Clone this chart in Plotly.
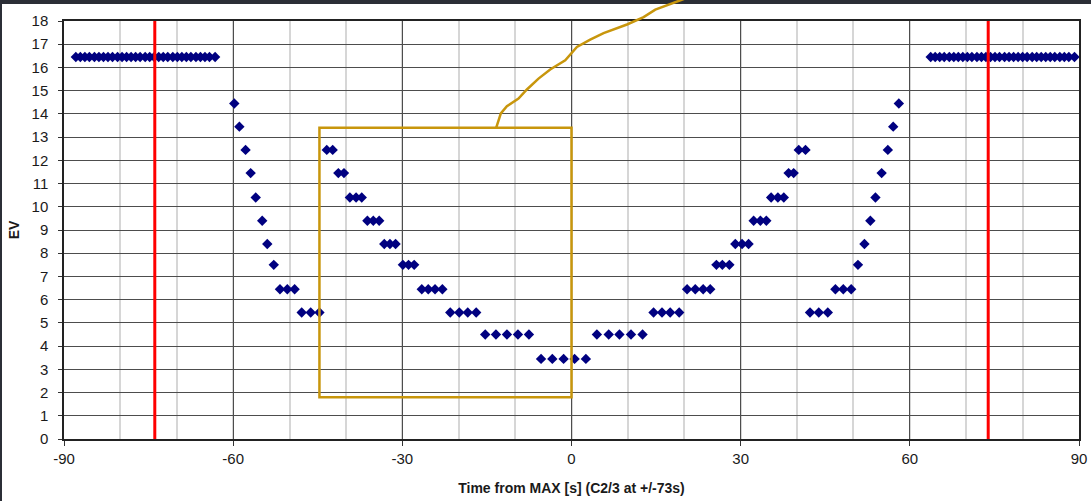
import plotly.graph_objects as go

# EV readings against time from maximum eclipse
time_s = [
    # plateau before C2
    -87.9, -87.1, -86.3, -85.5, -84.6, -83.8, -83.0, -82.2, -81.4, -80.5,
    -79.7, -78.9, -78.1, -77.3, -76.5, -75.6, -74.8, -74.0, -73.2, -72.4,
    -71.6, -70.7, -69.9, -69.1, -68.3, -67.5, -66.6, -65.8, -65.0, -64.2, -63.2,
    # first bracketing sweep
    -59.8, -58.9, -57.8, -56.9, -56.0, -54.85, -53.95, -52.8,
    -51.7, -50.4, -49.1, -47.85, -46.25, -44.7,
    # second bracketing sweep, down to the minimum and back up
    -43.4, -42.35, -41.35, -40.35, -39.3, -38.2, -37.2, -36.2, -35.15, -34.1,
    -33.2, -32.2, -31.2, -29.9, -28.9, -27.9, -26.55, -25.4, -24.2, -22.9,
    -21.5, -19.9, -18.4, -16.9, -15.3, -13.4, -11.45, -9.5, -7.55,
    -5.4, -3.4, -1.4, 0.55, 2.55,
    4.5, 6.6, 8.5, 10.55, 12.6, 14.55, 16.05, 17.5, 19.1,
    20.5, 21.95, 23.35, 24.6, 25.7, 26.75, 28.0, 29.05, 30.25, 31.4,
    32.3, 33.5, 34.55, 35.4, 36.6, 37.65, 38.5, 39.4, 40.3, 41.5,
    # last bracketing sweep
    42.3, 43.85, 45.45, 46.8, 48.2, 49.6, 50.8, 51.95, 53.0, 53.9,
    55.0, 56.1, 57.05, 58.05,
    # plateau after C3
    63.7, 64.5, 65.3, 66.1, 67.0, 67.8, 68.6, 69.4, 70.2, 71.0,
    71.9, 72.7, 73.5, 74.3, 75.1, 75.9, 76.8, 77.6, 78.4, 79.2,
    80.0, 80.8, 81.7, 82.5, 83.3, 84.1, 84.9, 85.7, 86.6, 87.4, 88.2, 89.2,
]

ev = (
    [16.45] * 31
    + [14.45, 13.45, 12.45, 11.45, 10.4, 9.4, 8.4, 7.5,
       6.45, 6.45, 6.45, 5.45, 5.45, 5.45]
    + [12.45, 12.45, 11.45, 11.45, 10.4, 10.4, 10.4, 9.4, 9.4, 9.4,
       8.4, 8.4, 8.4, 7.5, 7.5, 7.5, 6.45, 6.45, 6.45, 6.45,
       5.45, 5.45, 5.45, 5.45, 4.5, 4.5, 4.5, 4.5, 4.5,
       3.45, 3.45, 3.45, 3.45, 3.45,
       4.5, 4.5, 4.5, 4.5, 4.5, 5.45, 5.45, 5.45, 5.45,
       6.45, 6.45, 6.45, 6.45, 7.5, 7.5, 7.5, 8.4, 8.4, 8.4,
       9.4, 9.4, 9.4, 10.4, 10.4, 10.4, 11.45, 11.45, 12.45, 12.45]
    + [5.45, 5.45, 5.45, 6.45, 6.45, 6.45, 7.5, 8.4, 9.4, 10.4,
       11.45, 12.45, 13.45, 14.45]
    + [16.45] * 32
)

# second and third contact
contact_times = [-73.9, 73.9]

# highlighted window and its leader curve
box_t = [-44.7, 0.0]
box_ev = [1.8, 13.4]
leader_t = [-13.36, -12.53, -11.46, -9.40, -7.91, -5.85, -3.78, -1.11,
            0.96, 3.32, 5.69, 9.84, 12.79, 14.86, 19.3, 21.0]
leader_ev = [13.4, 14.02, 14.33, 14.66, 15.05, 15.52, 15.91, 16.31,
             16.88, 17.20, 17.48, 17.85, 18.17, 18.49, 18.89, 19.05]

X_RANGE = [-90, 90]
Y_RANGE = [0, 18]
x_ticks = [-90, -60, -30, 0, 30, 60, 90]
x_tick_labels = ["-90", "-60", "-30", "0", "30", "60", "90"]

FONT = "Liberation Sans, Arial, sans-serif"
NAVY = "#000080"
GOLD = "#c8960c"
GRID = "#4d4d4d"

fig = go.Figure()

fig.add_trace(go.Scatter(
    x=time_s, y=ev, mode="markers",
    marker=dict(symbol="diamond", size=8, color=NAVY, line=dict(width=0)),
    showlegend=False, hoverinfo="x+y",
))

for t in contact_times:
    fig.add_trace(go.Scatter(
        x=[t, t], y=Y_RANGE, mode="lines",
        line=dict(color="#ff0000", width=3),
        showlegend=False, hoverinfo="skip",
    ))

# page frame edges
L, R, T, B = 64, 12, 21, 62
W = 1091 - L - R
H = 501 - T - B
fig.add_shape(type="rect", xref="paper", yref="paper",
              x0=-L / W, x1=1 + R / W, y0=1 + (T - 4) / H, y1=1 + T / H + 0.01,
              fillcolor="#2b2e36", line=dict(width=0), layer="above")
fig.add_shape(type="rect", xref="paper", yref="paper",
              x0=-L / W - 0.01, x1=(-L + 2) / W, y0=-B / H - 0.01, y1=1 + T / H,
              fillcolor="#2b2e36", line=dict(width=0), layer="above")

# window rectangle
fig.add_shape(type="rect", xref="x", yref="y",
              x0=box_t[0], x1=box_t[1], y0=box_ev[0], y1=box_ev[1],
              line=dict(color=GOLD, width=2.5), layer="above")

# leader curve, allowed to run above the plot area
span = Y_RANGE[1] - Y_RANGE[0]
path = "M " + " L ".join(
    f"{t},{(v - Y_RANGE[0]) / span}" for t, v in zip(leader_t, leader_ev)
)
fig.add_shape(type="path", xref="x", yref="paper", path=path,
              line=dict(color=GOLD, width=2.5), layer="above")

fig.update_layout(
    width=1091, height=501,
    margin=dict(l=L, r=R, t=T, b=B, pad=0, autoexpand=False),
    paper_bgcolor="white", plot_bgcolor="white",
    font=dict(family=FONT, size=15, color="#1a1a1a"),
    showlegend=False,
)

fig.update_xaxes(
    range=X_RANGE, tickmode="array", tickvals=x_ticks, ticktext=x_tick_labels,
    ticks="outside", ticklen=5, tickcolor="#333", tickwidth=1,
    showgrid=True, gridcolor=GRID, gridwidth=1,
    minor=dict(dtick=10, tick0=0, showgrid=True, gridcolor="#d6d6d6", gridwidth=1.5),
    showline=True, linecolor="#222", linewidth=1.5, mirror=True,
    zeroline=False, automargin=False,
    tickfont=dict(size=15),
    title=dict(text="<b>Time from MAX [s] (C2/3 at +/-73s)</b>",
               font=dict(size=14), standoff=17),
)

fig.update_yaxes(
    range=Y_RANGE, dtick=1, tick0=0,
    ticks="outside", ticklen=4, tickcolor="#333", tickwidth=1,
    showgrid=True, gridcolor=GRID, gridwidth=1,
    showline=True, linecolor="#222", linewidth=1.5, mirror=True,
    zeroline=False, automargin=False,
    tickfont=dict(size=15),
    ticklabelstandoff=7,
    title=dict(text="<b>EV</b>", font=dict(size=14), standoff=9),
)

fig.write_html("out.html")
